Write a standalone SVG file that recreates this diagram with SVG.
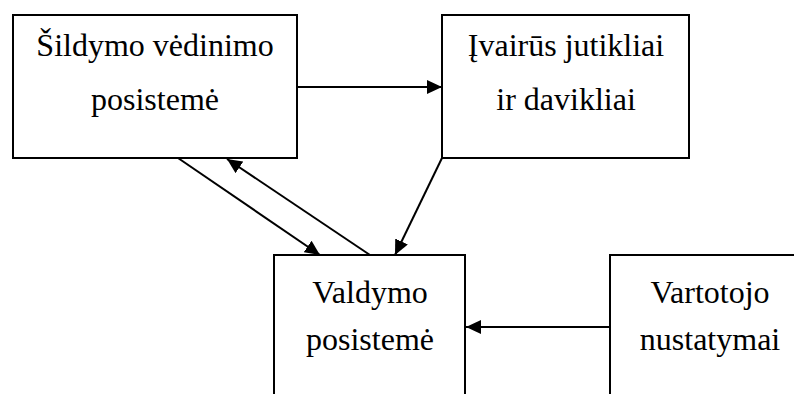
<svg xmlns="http://www.w3.org/2000/svg" width="794" height="394" viewBox="0 0 794 394">
  <style>
    .box { fill: #ffffff; stroke: #000000; stroke-width: 2; }
    .edge { fill: none; stroke: #000000; stroke-width: 2; marker-end: url(#arrow); }
  </style>
  <defs>
    <marker id="arrow" markerUnits="userSpaceOnUse" markerWidth="16" markerHeight="14" refX="15" refY="7" orient="auto">
      <path d="M0,0 L15,7 L0,14 Z" fill="#000000"/>
    </marker>
  </defs>
  <rect width="794" height="394" fill="#ffffff"/>

  <!-- labels are set at 30px and scaled up slightly to 32px -->
  <g id="sildymo">
    <rect class="box" x="13" y="15" width="284" height="143"/>
    <text transform="translate(155,56) scale(1.0667)" x="0" y="0" font-size="30" font-family="Liberation Serif" text-anchor="middle">Šildymo vėdinimo</text>
    <text transform="translate(155,110) scale(1.0667)" x="0" y="0" font-size="30" font-family="Liberation Serif" text-anchor="middle">posistemė</text>
  </g>

  <g id="jutikliai">
    <rect class="box" x="442" y="15" width="247" height="143"/>
    <text transform="translate(566,56) scale(1.0667)" x="0" y="0" font-size="30" font-family="Liberation Serif" text-anchor="middle">Įvairūs jutikliai</text>
    <text transform="translate(566,110) scale(1.0667)" x="0" y="0" font-size="30" font-family="Liberation Serif" text-anchor="middle">ir davikliai</text>
  </g>

  <g id="valdymo">
    <rect class="box" x="274" y="255" width="191" height="160"/>
    <text transform="translate(370,303) scale(1.0667)" x="0" y="0" font-size="30" font-family="Liberation Serif" text-anchor="middle">Valdymo</text>
    <text transform="translate(370,350) scale(1.0667)" x="0" y="0" font-size="30" font-family="Liberation Serif" text-anchor="middle">posistemė</text>
  </g>

  <g id="vartotojo">
    <rect class="box" x="610" y="255" width="200" height="160"/>
    <text transform="translate(710,303) scale(1.0667)" x="0" y="0" font-size="30" font-family="Liberation Serif" text-anchor="middle">Vartotojo</text>
    <text transform="translate(710,350) scale(1.0667)" x="0" y="0" font-size="30" font-family="Liberation Serif" text-anchor="middle">nustatymai</text>
  </g>

  <g id="connectors">
    <path class="edge" d="M297,87 L442,87"/>
    <path class="edge" d="M178,158 L320,255"/>
    <path class="edge" d="M370,255 L227,159"/>
    <path class="edge" d="M442,158 L395,255"/>
    <path class="edge" d="M610,327 L466,327"/>
  </g>
</svg>
